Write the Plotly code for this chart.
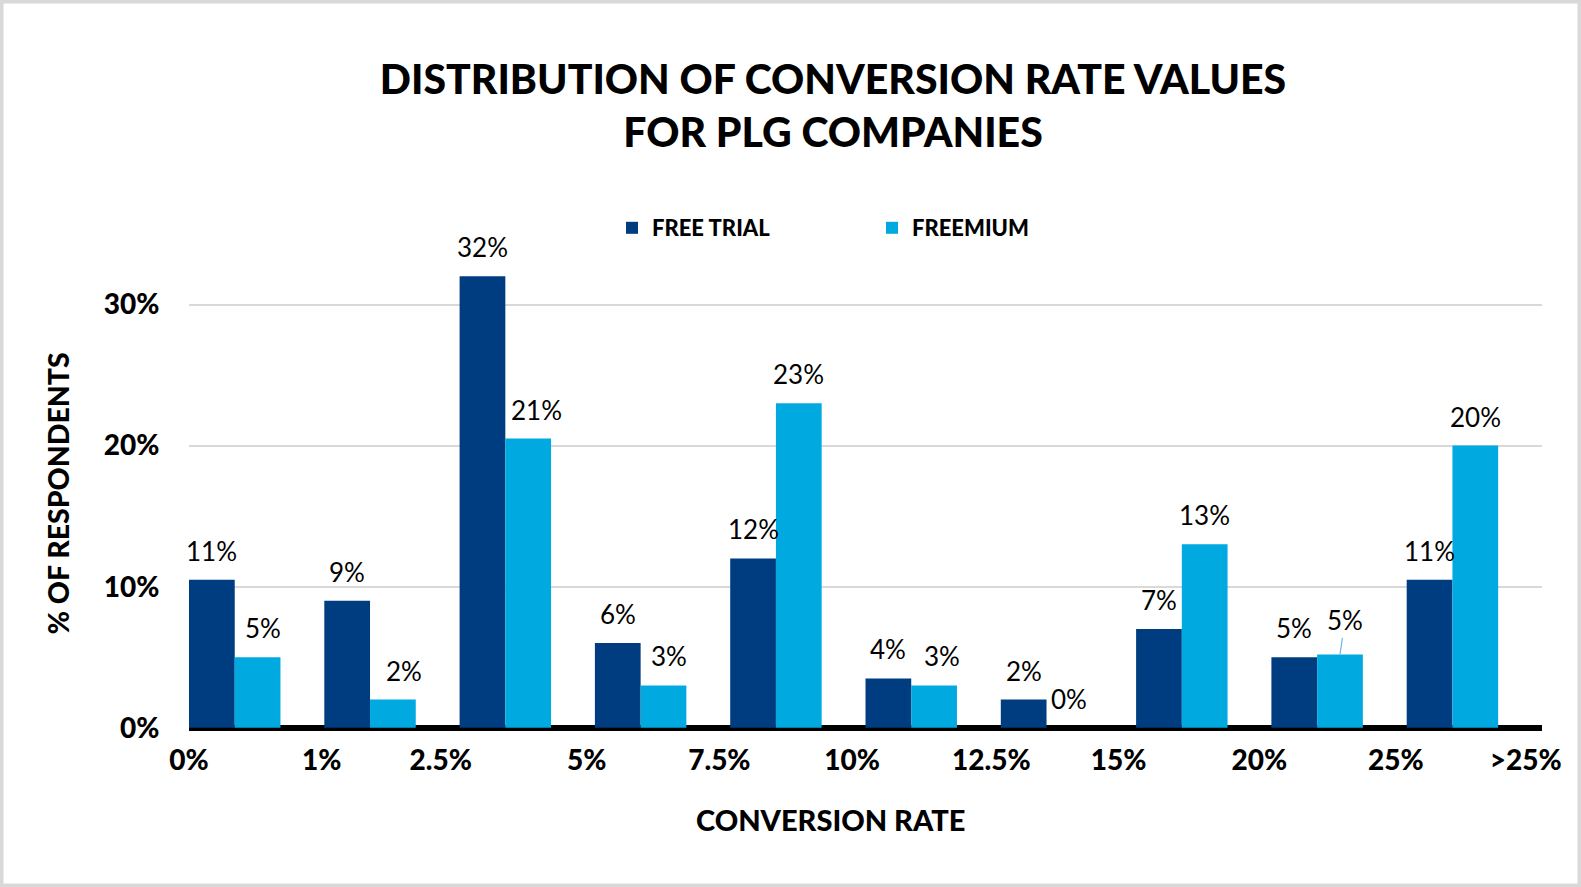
import plotly.graph_objects as go

# ---- data ----
tick_labels = ["0%", "1%", "2.5%", "5%", "7.5%", "10%", "12.5%", "15%", "20%", "25%", ">25%"]
free_trial = [10.5, 9.0, 32.0, 6.0, 12.0, 3.5, 2.0, 7.0, 5.0, 10.5]
freemium = [5.0, 2.0, 20.5, 3.0, 23.0, 3.0, 0.0, 13.0, 5.2, 20.0]
series_names = ["FREE TRIAL", "FREEMIUM"]

# ---- style ----
C_DARK = "#003d80"
C_LIGHT = "#00a9df"
W, H = 1581, 887
ML, MR, MT, MB = 189, 39, 234, 155
BAR_W = 0.338
LABEL_FONT = "Lato"
BOLD_FONT = "Lato"
TICK_NUDGE = [0.0, -0.02, -0.14, -0.06, -0.08, -0.1, -0.07, -0.13, -0.09, -0.08, -0.12]
FM_LABEL_XSHIFT = [5, 11, 8, 5, 0, 8, 0, 0, 0, 0]
LEADER_GROUP = 8  # crowded freemium label drawn with a short leader line

groups = list(range(len(free_trial)))

fig = go.Figure()
fig.add_trace(go.Bar(
    x=groups, y=free_trial, name=series_names[0],
    marker=dict(color=C_DARK, line=dict(width=0)),
    width=BAR_W, offset=0,
))
fig.add_trace(go.Bar(
    x=groups, y=freemium, name=series_names[1],
    marker=dict(color=C_LIGHT, line=dict(width=0)),
    width=BAR_W, offset=BAR_W,
))

annotations = []
for k, vals in enumerate([free_trial, freemium]):
    for i, v in zip(groups, vals):
        xc = i + BAR_W * k + BAR_W / 2
        txt = f"{int(v + 0.5)}%"
        font = dict(family=LABEL_FONT, size=26, color="#000000", weight=400)
        if k == 1 and i == LEADER_GROUP:
            annotations.append(dict(
                x=xc, y=v, xref="x", yref="y", text=txt, showarrow=True,
                arrowhead=0, arrowwidth=1.2, arrowcolor="#6fb3f2",
                ax=5, ay=-34, standoff=0, font=font,
            ))
        else:
            annotations.append(dict(
                x=xc, y=v, xref="x", yref="y", text=txt, showarrow=False,
                yanchor="middle", yshift=29,
                xshift=FM_LABEL_XSHIFT[i] if k == 1 else 0, font=font,
            ))

pw = W - ML - MR
ph = H - MT - MB
# axis titles
annotations.append(dict(
    x=(830 - ML) / pw, y=(H - MB - 819) / ph, xref="paper", yref="paper",
    text="CONVERSION RATE", showarrow=False, xanchor="center", yanchor="middle",
    font=dict(family=BOLD_FONT, size=29, color="#000000", weight=900),
))
annotations.append(dict(
    x=(57.5 - ML) / pw, y=(H - MB - 494) / ph, xref="paper", yref="paper",
    text="% OF RESPONDENTS", showarrow=False, xanchor="center", yanchor="middle",
    textangle=-90,
    font=dict(family=BOLD_FONT, size=28.5, color="#000000", weight=900),
))

shapes = [dict(
    type="rect", xref="paper", yref="paper",
    x0=(0 - ML) / pw, x1=(W - ML) / pw, y0=(0 - MB) / ph, y1=(H - MB) / ph,
    line=dict(color="#d9d9d9", width=7), fillcolor="rgba(0,0,0,0)", layer="above",
)]

fig.update_layout(
    width=W, height=H,
    margin=dict(l=ML, r=MR, t=MT, b=MB, autoexpand=False),
    paper_bgcolor="#ffffff", plot_bgcolor="#ffffff",
    barmode="overlay",
    title=dict(
        text="DISTRIBUTION OF CONVERSION RATE VALUES<br>FOR PLG COMPANIES",
        x=833 / W, xanchor="center", y=1 - 94 / H, yanchor="middle",
        font=dict(family=BOLD_FONT, size=41, color="#000000", weight=900),
    ),
    legend=dict(
        orientation="h", x=(612 - ML) / pw, y=(H - MB - 228) / ph,
        xanchor="left", yanchor="middle", entrywidth=215, entrywidthmode="pixels",
        font=dict(family=BOLD_FONT, size=22, color="#000000", weight=900),
        bgcolor="rgba(0,0,0,0)", traceorder="normal",
    ),
    xaxis=dict(
        range=[0, 10], tickmode="array",
        tickvals=[i + TICK_NUDGE[i] for i in range(len(tick_labels))],
        ticktext=tick_labels,
        showgrid=False, zeroline=False, showline=False,
        ticks="outside", ticklen=3, tickcolor="rgba(0,0,0,0)",
        tickfont=dict(family=BOLD_FONT, size=28, color="#000000", weight=900),
    ),
    yaxis=dict(
        range=[-0.3, 35], tickmode="array", tickvals=[0, 10, 20, 30],
        ticktext=["0%", "10%", "20%", "30%"],
        showgrid=True, gridcolor="#d9d9d9", gridwidth=2,
        zeroline=True, zerolinecolor="#000000", zerolinewidth=6,
        showline=False,
        ticks="outside", ticklen=23, tickcolor="rgba(0,0,0,0)",
        tickfont=dict(family=BOLD_FONT, size=28, color="#000000", weight=900),
    ),
    annotations=annotations,
    shapes=shapes,
)

fig.write_html(
    "out.html",
    config={"displayModeBar": False},
    post_script="document.body.style.margin='0';document.body.style.overflow='hidden';",
)
